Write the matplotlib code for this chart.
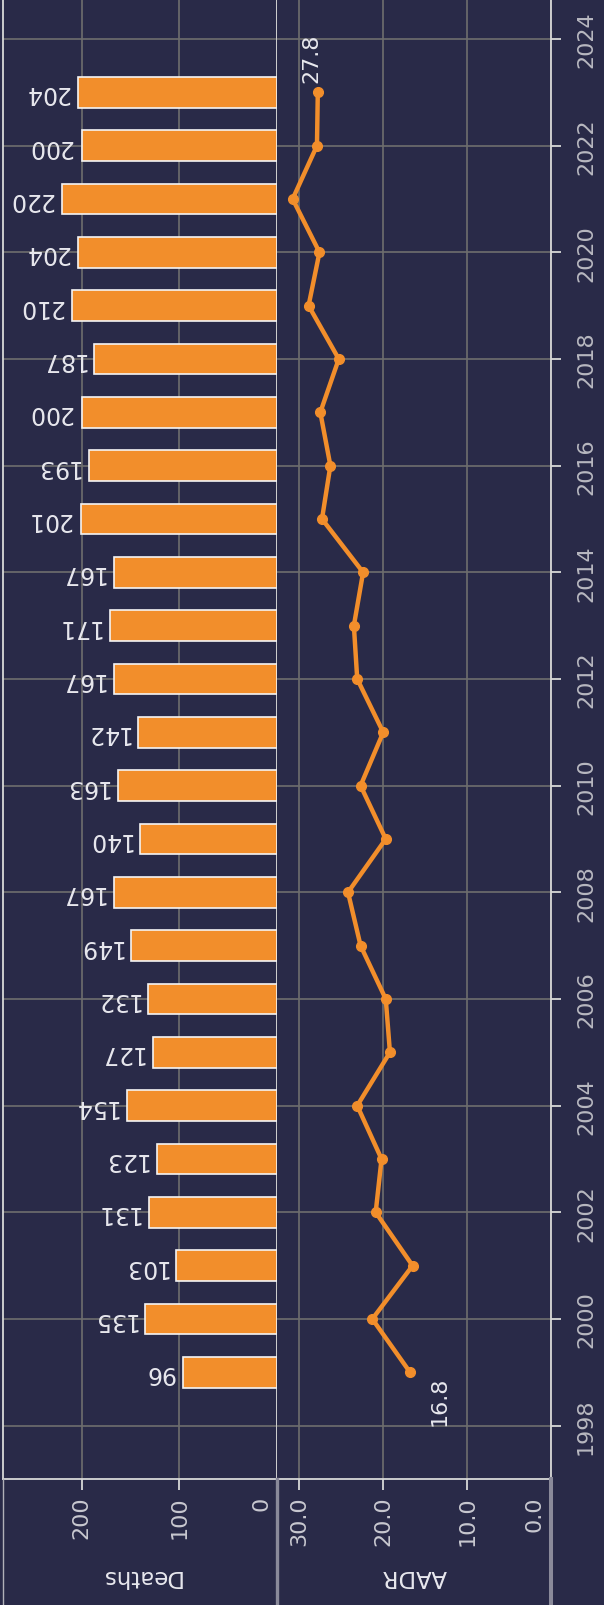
import numpy as np
import matplotlib
matplotlib.use('Agg')
import matplotlib.pyplot as plt
from matplotlib.lines import Line2D

# data
years = list(range(1999, 2024))
deaths = [96, 135, 103, 131, 123, 154, 127, 132, 149, 167, 140, 163, 142,
          167, 171, 167, 201, 193, 200, 187, 210, 204, 220, 200, 204]
aadr = [16.8, 21.3, 16.5, 20.9, 20.2, 23.1, 19.2, 19.7, 22.7, 24.2, 19.7, 22.7,
        20.0, 23.1, 23.5, 22.4, 27.3, 26.3, 27.5, 25.3, 28.9, 27.6, 30.8, 27.9, 27.8]
year_ticks = list(range(1998, 2025, 2))
death_ticks = [0, 100, 200]
death_labels = ['', '100', '200']
aadr_ticks = [0, 10, 20, 30]
aadr_labels = ['', '10.0', '20.0', '30.0']

bg = '#292a48'
orange = '#f28e2b'
gridc = '#6e6e6e'
frame = '#d8d8d8'
tickc = '#c8c8d0'
yearc = '#b8b8c0'
txt = '#e8e8ee'

W, H = 604, 1606
fig = plt.figure(figsize=(W / 100, H / 100), dpi=100, facecolor=bg)


def fx(px):
    return px / W


def fy(px):
    return 1 - px / H


plot_bottom = 1480
ax1 = fig.add_axes([fx(2.7), fy(plot_bottom), fx(276.7 - 2.7), plot_bottom / H])
ax2 = fig.add_axes([fx(276.7), fy(plot_bottom), fx(551 - 276.7), plot_bottom / H])

for ax in (ax1, ax2):
    ax.set_facecolor(bg)
    ax.set_ylim(1997, 2024.75)
    ax.set_yticks(year_ticks)
    ax.grid(True, color=gridc, lw=1.2)
    ax.set_axisbelow(True)
    ax.spines['top'].set_visible(False)
    for s in ('left', 'right', 'bottom'):
        ax.spines[s].set_color(frame)
        ax.spines[s].set_linewidth(1.3)
    ax.tick_params(axis='x', colors=frame, labelcolor=tickc, labelsize=16,
                   labelrotation=90, length=8, width=1.3, pad=4)

# deaths panel
ax1.barh(years, deaths, height=0.58, color=orange, edgecolor='#f4f4f4',
         linewidth=1.2, zorder=3)
ax1.set_xlim(281, 0)
ax1.set_xticks(death_ticks)
ax1.set_xticklabels(death_labels)
ax1.tick_params(axis='y', left=False, labelleft=False)
for y, d in zip(years, deaths):
    ax1.annotate(str(d), (d, y), xytext=(-6.5, 0), textcoords='offset points',
                 rotation=180, ha='right', va='center', fontsize=17, color=txt)
ax1.annotate('0', (0, 0), xycoords=('data', 'axes fraction'), xytext=(-10.8, -12.2),
             textcoords='offset points', rotation=90, ha='center', va='top',
             fontsize=16, color=tickc)
ax1.text(0.5, -(1577 - plot_bottom) / plot_bottom, 'Deaths', transform=ax1.transAxes,
         rotation=180, ha='center', va='center', fontsize=16.5, color=txt)

# AADR panel (rate on the horizontal axis, years going up)
ax2.plot(aadr, years, color=orange, lw=3.2, marker='o', ms=7, zorder=3,
         solid_joinstyle='round')
ax2.set_xlim(32.7, 0)
ax2.set_xticks(aadr_ticks)
ax2.set_xticklabels(aadr_labels)
ax2.spines['left'].set_visible(False)
ax2.yaxis.tick_right()
ax2.tick_params(axis='y', colors=frame, labelcolor=yearc, labelsize=16,
                labelrotation=90, length=7, width=1.3, pad=11)
plt.setp(ax2.get_yticklabels(), va='center')
ax2.annotate('0.0', (0, 0), xycoords=('data', 'axes fraction'), xytext=(-12.2, -12.2),
             textcoords='offset points', rotation=90, ha='center', va='top',
             fontsize=16, color=tickc)
ax2.annotate(f'{aadr[0]:.1f}', (aadr[0], years[0]), xytext=(20.9, -20),
             textcoords='offset points', rotation=90, ha='center', va='center',
             fontsize=16, color=txt)
ax2.annotate(f'{aadr[-1]:.1f}', (aadr[-1], years[-1]), xytext=(-4.3, 25),
             textcoords='offset points', rotation=90, ha='center', va='center',
             fontsize=16, color=txt)
ax2.text(0.5, -(1577 - plot_bottom) / plot_bottom, 'AADR', transform=ax2.transAxes,
         rotation=180, ha='center', va='center', fontsize=16.5, color=txt)

# separators in the label strip
fig.add_artist(Line2D([fx(2.7)] * 2, [fy(plot_bottom), 0], color='#b0b0b8', lw=1))
fig.add_artist(Line2D([fx(276.7)] * 2, [fy(plot_bottom), 0], color='#8a8a9a', lw=2.4))
fig.add_artist(Line2D([fx(551)] * 2, [fy(plot_bottom), 0], color='#8a8a9a', lw=2.9))

fig.savefig('out.png', dpi=100, facecolor=bg)
